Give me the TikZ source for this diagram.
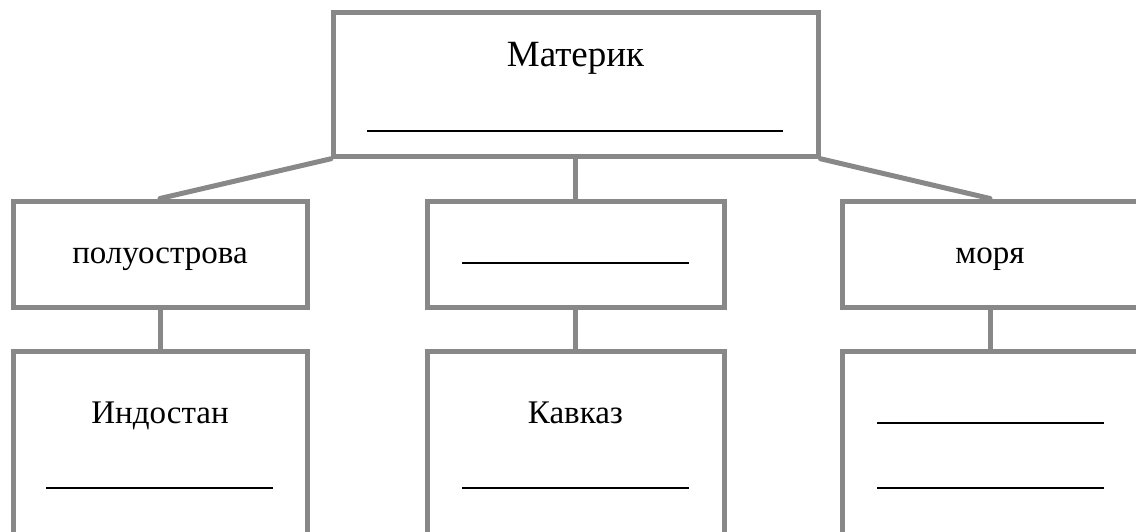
\documentclass[tikz,border=0pt]{standalone}
\usepackage{fontspec}
\setmainfont{Liberation Serif}
\definecolor{boxgray}{RGB}{136,136,136}
\tikzset{
  box/.style={draw=boxgray, line width=5pt, rectangle, inner sep=0pt, fill=none},
  conn/.style={draw=boxgray, line width=5pt, line cap=round},
  blank/.style={draw=black, line width=2.5pt},
  lbl/.style={anchor=base, inner sep=0pt, font=\fontsize{33}{40}\selectfont},
}
\begin{document}
\begin{tikzpicture}[x=1pt, y=-1pt]
\clip (0,0) rectangle (1136,531);
\fill[white] (0,0) rectangle (1136,531);
% boxes
\node[box, minimum width=484.5pt, minimum height=143.5pt] (top) at (575.75,84.5) {};
\node[box, minimum width=294pt, minimum height=106pt] (m1) at (160,254) {};
\node[box, minimum width=297pt, minimum height=106pt] (m2) at (575.5,254) {};
\node[box, minimum width=296pt, minimum height=106pt] (m3) at (990,254) {};
\node[box, minimum width=294pt, minimum height=249pt] (b1) at (160,475.5) {};
\node[box, minimum width=297pt, minimum height=249pt] (b2) at (575.5,475.5) {};
\node[box, minimum width=296pt, minimum height=249pt] (b3) at (990,475.5) {};
% connectors
\draw[conn] (top.south west) -- (m1.north);
\draw[conn] (top.south -| m2.north) -- (m2.north);
\draw[conn] (top.south east) -- (m3.north);
\draw[conn] (m1.south) -- (b1.north);
\draw[conn] (m2.south) -- (b2.north);
\draw[conn] (m3.south) -- (b3.north);
% texts
\node[lbl, font=\fontsize{37}{44}\selectfont] (tt) at (575.5,66.5) {Материк};
\node[lbl] (t1) at (160,263) {полуострова};
\node[lbl] (t3) at (990,263) {моря};
\node[lbl] (t4) at (160,423) {Индостан};
\node[lbl] (t5) at (575.5,423) {Кавказ};
% blank lines
\draw[blank] (367,131) -- (783,131);
\draw[blank] (462,263) -- (689,263);
\draw[blank] (46,488) -- (273,488);
\draw[blank] (462,488) -- (689,488);
\draw[blank] (877,423) -- (1104,423);
\draw[blank] (877,488) -- (1104,488);
\end{tikzpicture}
\end{document}
